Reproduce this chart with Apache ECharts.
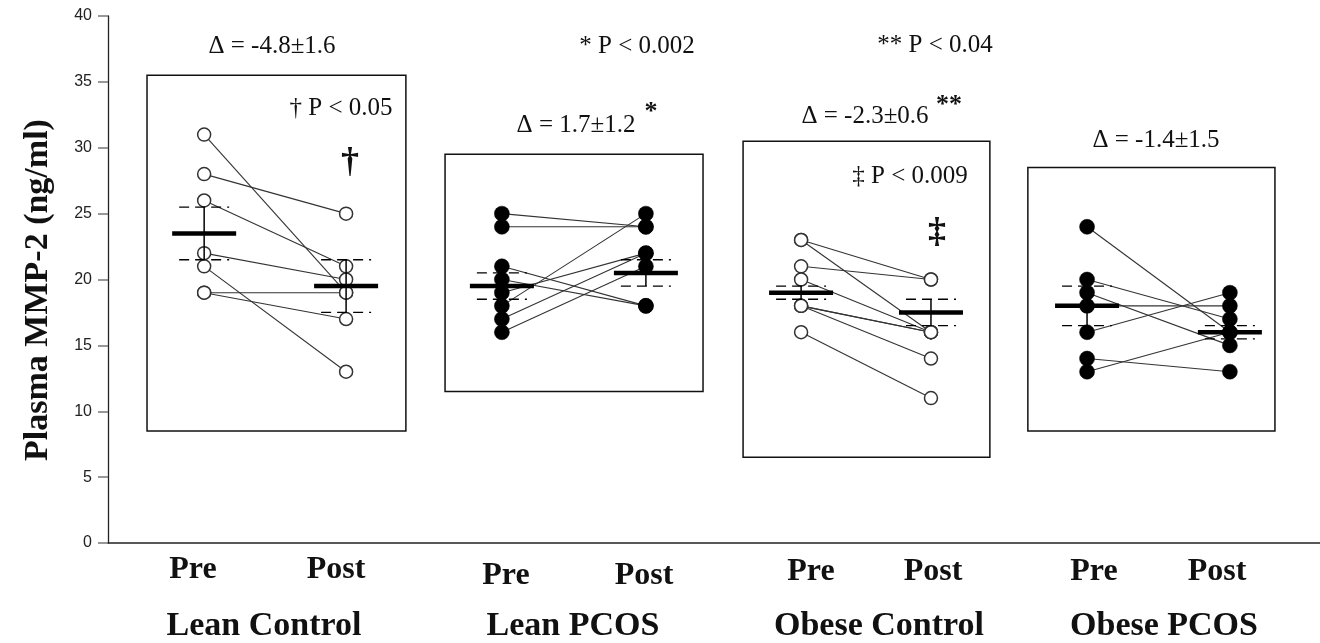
<!DOCTYPE html>
<html><head><meta charset="utf-8">
<script src="https://cdn.jsdelivr.net/npm/echarts@6/dist/echarts.min.js"></script>
<style>html,body{margin:0;padding:0;background:#fff}#c{width:1320px;height:643px}</style>
</head><body><div id="c"></div>
<script>
// ---------- data ----------
const groups = ['Lean Control', 'Lean PCOS', 'Obese Control', 'Obese PCOS'];
const timeLabels = ['Pre', 'Post'];
const yTicks = [0, 5, 10, 15, 20, 25, 30, 35, 40];
const leanControlPre  = [31, 28, 26, 22, 21, 19, 19];
const leanControlPost = [19, 25, 21, 20, 13, 19, 17];
const leanPcosPre     = [25, 24, 21, 20, 19, 18, 17, 16];
const leanPcosPost    = [24, 24, 18, 18, 22, 25, 22, 21];
const obeseControlPre  = [23, 23, 21, 20, 18, 18, 18, 16];
const obeseControlPost = [20, 16, 20, 16, 16, 16, 14, 11];
const obesePcosPre     = [24, 20, 19, 18, 16, 14, 13];
const obesePcosPost    = [16, 17, 15, 18, 19, 13, 16];
const meanPre  = [23.5, 19.5, 19.0, 18.0];
const meanPost = [19.5, 20.5, 17.5, 16.0];
const sePre    = [2.0, 1.0, 0.5, 1.5];
const sePost   = [2.0, 1.0, 1.0, 0.5];
const boxLow   = [8.5, 11.5, 6.5, 8.5];
const boxHigh  = [35.5, 29.5, 30.5, 28.5];
const deltaText = ['Δ = -4.8±1.6', 'Δ = 1.7±1.2', 'Δ = -2.3±0.6', 'Δ = -1.4±1.5'];
const pText = ['* P < 0.002', '** P < 0.04', '† P < 0.05', '‡ P < 0.009'];

// ---------- layout (not data) ----------
const PRE_DX  = [-0.244, -0.233, -0.217, -0.246];
const POST_DX = [0.238, 0.256, 0.224, 0.239];
const BOX_X   = [[-0.438, 0.441], [-0.426, 0.45], [-0.414, 0.424], [-0.447, 0.392]];
const filled  = [false, true, false, true];
const preVals  = [leanControlPre, leanPcosPre, obeseControlPre, obesePcosPre];
const postVals = [leanControlPost, leanPcosPost, obeseControlPost, obesePcosPost];

const SERIF = '"Liberation Serif", "Times New Roman", serif';
const chart = echarts.init(document.getElementById('c'), null, {renderer: 'canvas'});

const series = [];
// boxes
series.push({
  type: 'custom', z: 1, silent: true,
  data: groups.map((g, i) => [i, boxLow[i], boxHigh[i]]),
  renderItem: (params, api) => {
    const g = api.value(0);
    const p1 = api.coord([g + BOX_X[g][0], api.value(2)]);
    const p2 = api.coord([g + BOX_X[g][1], api.value(1)]);
    return {type: 'rect', shape: {x: p1[0], y: p1[1], width: p2[0] - p1[0], height: p2[1] - p1[1]},
      style: {fill: 'none', stroke: '#111', lineWidth: 1.5}};
  }
});
// connecting lines
groups.forEach((name, g) => {
  series.push({
    type: 'custom', z: 2, silent: true,
    data: preVals[g].map((v, i) => [g, v, postVals[g][i]]),
    renderItem: (params, api) => {
      const gg = api.value(0);
      const a = api.coord([gg + PRE_DX[gg], api.value(1)]);
      const b = api.coord([gg + POST_DX[gg], api.value(2)]);
      return {type: 'line', shape: {x1: a[0], y1: a[1], x2: b[0], y2: b[1]},
        style: {stroke: '#333', lineWidth: 1.1}};
    }
  });
});
// points
groups.forEach((name, g) => {
  const pts = preVals[g].map(v => [g + PRE_DX[g], v]).concat(postVals[g].map(v => [g + POST_DX[g], v]));
  series.push({
    type: 'scatter', z: 3, silent: true, data: pts,
    symbol: 'circle', symbolSize: filled[g] ? 15 : 13,
    itemStyle: filled[g] ? {color: '#000', borderColor: '#000', borderWidth: 0.5, opacity: 1}
                         : {color: '#fff', borderColor: '#333', borderWidth: 1.5, opacity: 1}
  });
});
// means with SE
series.push({
  type: 'custom', z: 4, silent: true,
  data: groups.flatMap((n, g) => [[g + PRE_DX[g], meanPre[g], sePre[g]], [g + POST_DX[g], meanPost[g], sePost[g]]]),
  renderItem: (params, api) => {
    const x = api.value(0), m = api.value(1), s = api.value(2);
    const c = api.coord([x, m]), hi = api.coord([x, m + s]), lo = api.coord([x, m - s]);
    const hw = 32, dw = 25;
    return {type: 'group', children: [
      {type: 'line', shape: {x1: c[0], y1: hi[1], x2: c[0], y2: lo[1]}, style: {stroke: '#000', lineWidth: 1.5}},
      {type: 'line', shape: {x1: c[0] - dw, y1: hi[1], x2: c[0] + dw, y2: hi[1]}, style: {stroke: '#000', lineWidth: 1.3, lineDash: [10, 6]}},
      {type: 'line', shape: {x1: c[0] - dw, y1: lo[1], x2: c[0] + dw, y2: lo[1]}, style: {stroke: '#000', lineWidth: 1.3, lineDash: [10, 6]}},
      {type: 'line', shape: {x1: c[0] - hw, y1: c[1], x2: c[0] + hw, y2: c[1]}, style: {stroke: '#000', lineWidth: 4.5}}
    ]};
  }
});

function txt(t, x, y, size, bold, extra) {
  return Object.assign({type: 'text', x: x, y: y, silent: true, z: 10,
    style: {text: t, fill: '#111', font: (bold ? 'bold ' : '') + size + 'px ' + SERIF,
      textAlign: 'center', textVerticalAlign: 'middle'}}, extra || {});
}
const pxX = [[193, 336], [506, 644], [811, 933], [1094, 1217]];
const pxY = [570, 576, 572, 572];
const grpX = [264, 573, 879, 1164];
const graphics = [];
groups.forEach((g, i) => {
  graphics.push(txt(timeLabels[0], pxX[i][0], pxY[i], 32, true));
  graphics.push(txt(timeLabels[1], pxX[i][1], pxY[i], 32, true));
  graphics.push(txt(g, grpX[i], 626, 34, true));
});
graphics.push(txt(deltaText[0], 272, 46, 25, false));
graphics.push(txt(deltaText[1], 576, 125, 25, false));
graphics.push(txt(deltaText[2], 865, 116, 25, false));
graphics.push(txt(deltaText[3], 1156, 140, 25, false));
graphics.push(txt(pText[0], 637, 46, 25, false));
graphics.push(txt(pText[1], 935, 45, 25, false));
graphics.push(txt(pText[2], 341, 108, 25, false));
graphics.push(txt(pText[3], 910, 176, 25, false));
graphics.push(txt('*', 651, 112, 26, true));
graphics.push(txt('**', 949, 105, 26, true));
graphics.push(txt('†', 350, 163, 36, true));
graphics.push(txt('‡', 937, 233, 36, true));
graphics.push(txt('Plasma MMP-2 (ng/ml)', 38, 290, 34, true, {rotation: Math.PI / 2}));

chart.setOption({
  animation: false,
  backgroundColor: '#fff',
  grid: {left: 108, right: 0, top: 16, bottom: 100, containLabel: false},
  xAxis: {type: 'value', min: -0.5705, max: 3.545, splitLine: {show: false},
    axisLine: {show: true, onZero: false, lineStyle: {color: '#222', width: 1.5}},
    axisTick: {show: false}, axisLabel: {show: false}},
  yAxis: {type: 'value', min: yTicks[0], max: yTicks[yTicks.length - 1], interval: yTicks[1] - yTicks[0],
    splitLine: {show: false},
    axisLine: {show: true, onZero: false, lineStyle: {color: '#222', width: 1.3}},
    axisTick: {show: true, inside: false, length: 10, lineStyle: {color: '#777', width: 1.5}},
    axisLabel: {color: '#222', fontSize: 16, fontFamily: '"Liberation Sans", Arial, sans-serif', margin: 16}},
  series: series,
  graphic: graphics
});
</script></body></html>
